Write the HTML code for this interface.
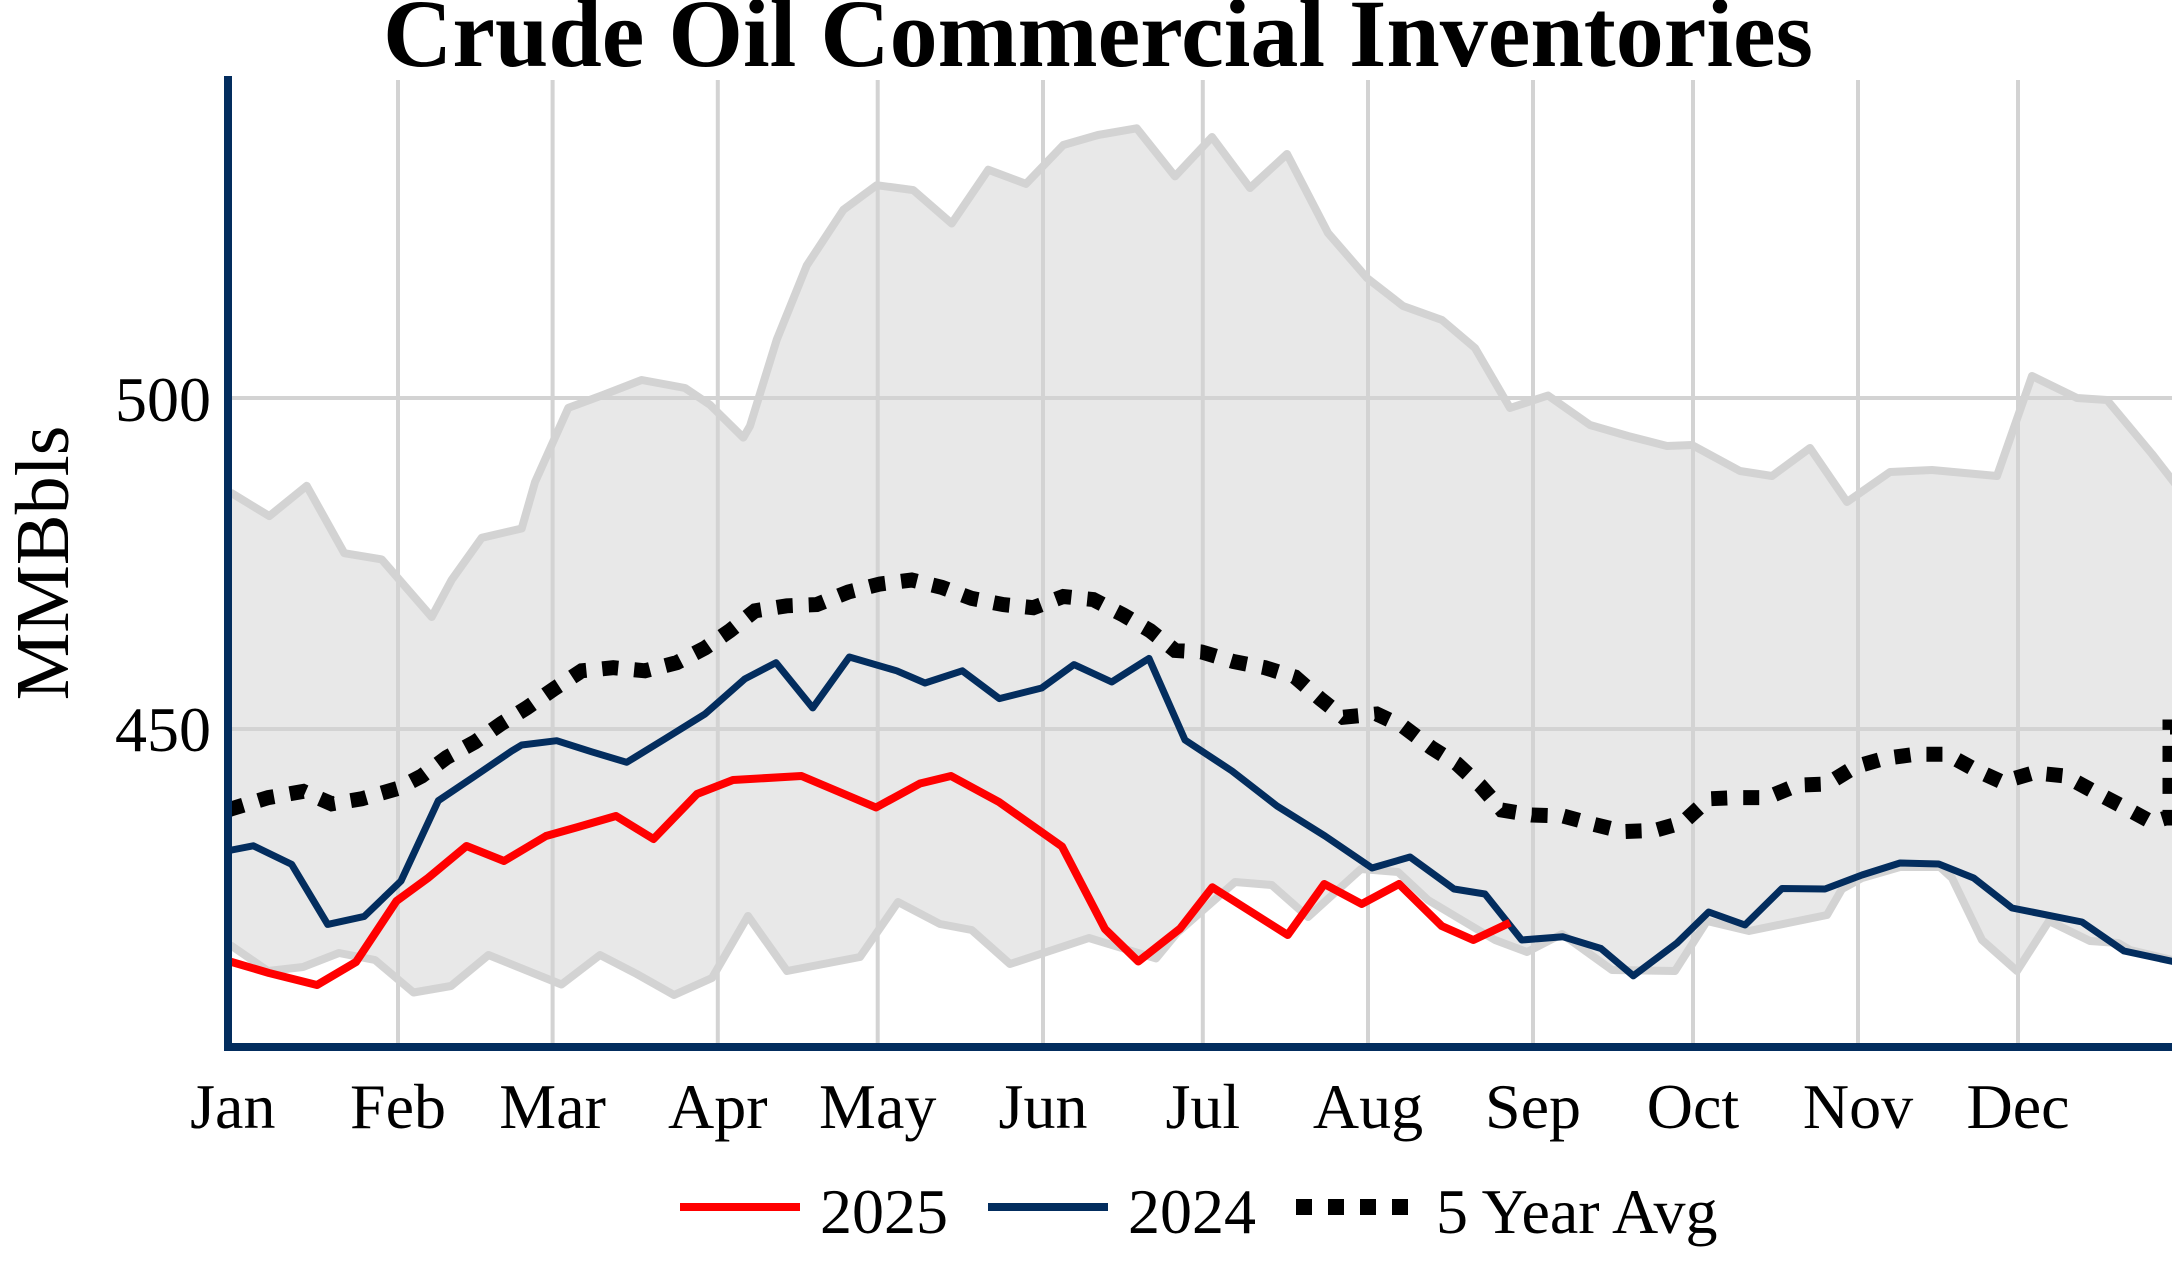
<!DOCTYPE html>
<html>
<head>
<meta charset="utf-8">
<style>
html,body{margin:0;padding:0;background:#fff;}
svg{display:block;}
text{font-family:"Liberation Serif","Times New Roman",serif;fill:#000;}
</style>
</head>
<body>
<svg width="2172" height="1276" viewBox="0 0 2172 1276" xmlns="http://www.w3.org/2000/svg">
<defs>
<clipPath id="pa"><rect x="228" y="80" width="1944" height="967"/></clipPath>
</defs>
<rect width="2172" height="1276" fill="#fff"/>

<g clip-path="url(#pa)">
<!-- band fill -->
<polygon fill="#e8e8e8" points="
228,493 231.7,493.2 269.3,516.1 306.7,485.8 344.3,553.2 381.7,559.4 431.7,617 451.7,579.8 481.7,537.8 521.7,528.5 535,482.1 568.3,407.9 601.7,395.5 641.7,380 685,388 710,404.8 743.3,437.6 750,426 776.7,339.8 806.7,265.6 843.3,209.9 876.7,185.2 913.3,190.1 951.7,223.5 988.3,169.7 1026,183.9 1063.3,145 1098,135 1136.7,128.3 1175,176.4 1212,137 1250,188 1287,154 1328,233 1367,278 1403,306 1442,320 1475,348 1510,408 1548,395.5 1590,425 1628,436 1667,446 1692,445 1740,471 1772,476 1810,448 1847,502 1890,472 1932,470 1997,476 2032,376 2077,398 2107,400 2152,454 2180,490
2180,960 2172,960 2130,950 2118,943 2090,941 2049,921 2017,971 1982,940 1952,878 1940,867 1900,867 1862,878 1842,889 1827,915 1749,931 1707,921 1675,971 1612,970 1562,934 1527,952 1495,940 1428,900 1398,872 1361,869 1308,917 1271.7,885 1235,882 1177,933 1156,958.4 1089,938 1010,964 971.7,930 940,924 898,902 860,957 787,971 748,916 712,978 674,995 636.7,974 600,955 561.5,984.5 488.5,955 451,986 413.5,992.5 375,960 339,953 303,967 268,971 231.7,946 228,945"/>

<!-- gridlines -->
<g stroke="#d3d3d3" stroke-width="4" fill="none">
<line x1="228" y1="398" x2="2172" y2="398"/>
<line x1="228" y1="729" x2="2172" y2="729"/>
<line x1="398" y1="80" x2="398" y2="1047"/>
<line x1="552.6" y1="80" x2="552.6" y2="1047"/>
<line x1="717.8" y1="80" x2="717.8" y2="1047"/>
<line x1="877.7" y1="80" x2="877.7" y2="1047"/>
<line x1="1043" y1="80" x2="1043" y2="1047"/>
<line x1="1202.8" y1="80" x2="1202.8" y2="1047"/>
<line x1="1368" y1="80" x2="1368" y2="1047"/>
<line x1="1533" y1="80" x2="1533" y2="1047"/>
<line x1="1693" y1="80" x2="1693" y2="1047"/>
<line x1="1858" y1="80" x2="1858" y2="1047"/>
<line x1="2018" y1="80" x2="2018" y2="1047"/>
</g>

<!-- band lines -->
<g stroke="#d3d3d3" stroke-width="8" fill="none" stroke-linejoin="round">
<polyline points="228,493 231.7,493.2 269.3,516.1 306.7,485.8 344.3,553.2 381.7,559.4 431.7,617 451.7,579.8 481.7,537.8 521.7,528.5 535,482.1 568.3,407.9 601.7,395.5 641.7,380 685,388 710,404.8 743.3,437.6 750,426 776.7,339.8 806.7,265.6 843.3,209.9 876.7,185.2 913.3,190.1 951.7,223.5 988.3,169.7 1026,183.9 1063.3,145 1098,135 1136.7,128.3 1175,176.4 1212,137 1250,188 1287,154 1328,233 1367,278 1403,306 1442,320 1475,348 1510,408 1548,395.5 1590,425 1628,436 1667,446 1692,445 1740,471 1772,476 1810,448 1847,502 1890,472 1932,470 1997,476 2032,376 2077,398 2107,400 2152,454 2180,490"/>
<polyline points="228,945 231.7,946 268,971 303,967 339,953 375,960 413.5,992.5 451,986 488.5,955 561.5,984.5 600,955 636.7,974 674,995 712,978 748,916 787,971 860,957 898,902 940,924 971.7,930 1010,964 1089,938 1156,958.4 1177,933 1235,882 1271.7,885 1308,917 1361,869 1398,872 1428,900 1495,940 1527,952 1562,934 1612,970 1675,971 1707,921 1749,931 1827,915 1842,889 1862,878 1900,867 1940,867 1952,878 1982,940 2017,971 2049,921 2090,941 2118,943 2130,950 2172,960 2180,960"/>
</g>

<!-- 2024 -->
<polyline fill="none" stroke="#032d5e" stroke-width="7" stroke-linejoin="round" points="228,851 231.7,850 253.3,845.8 291.7,864.4 327.7,924.4 364.3,916.4 401,881 438.3,800.7 475,776 511.7,751 521.7,745 556.7,740.7 591.7,751.8 626.7,762.3 665,738.8 705,714 745,678.8 776,662.7 812.7,707.9 849.3,657 896.7,670.8 925,683 962.3,670.8 999.3,698.6 1041.7,688 1074,664.6 1111.7,682 1149,658.4 1185,740 1232,771 1277,806 1325,836 1372,868 1410,857 1454,889 1485,894 1521.7,940 1563,936.8 1601,948.5 1633.3,975.8 1677,943 1708.7,912 1745,925 1782,888.5 1825,889 1862,875 1900,863 1938.7,864 1973.7,878 2012,908 2082,922 2124,951 2180,963"/>

<!-- 2025 -->
<polyline fill="none" stroke="#ff0000" stroke-width="8" stroke-linejoin="round" points="228,962 231.7,962 269,973 317,985 356,962 396.5,901 428,878 466.5,846 504,861 546,836 578,827 616,816 653.5,839 697,794 733,780 801.5,776 876,807.5 920,783.5 951,776 999,802 1062,846.5 1105,929 1138.3,961.5 1180,928.7 1212.3,887.3 1287.7,935 1324.3,884 1361.7,904 1399,884 1441.7,926 1473.3,940 1510,922.6"/>

<!-- 5 year avg -->
<polyline fill="none" stroke="#000" stroke-width="15" stroke-dasharray="16 16" points="228,810 231.7,808.7 268.3,797.6 303.3,791.4 331.7,803.8 361.7,798.8 398.3,788.3 421.7,776 446.7,757.4 475,742 501.7,723.4 526.7,707.9 553.3,689.3 581.7,670.8 613.3,667.7 645,670.8 676.7,662.7 705,648 730,630.6 755,610.8 786.7,605.8 816.7,604.6 848.3,592 880,584 911.7,580 941.7,587.3 971.7,598.4 1003.3,604.6 1033.3,607.7 1063.3,596.5 1093.3,599.6 1123.3,615 1150,630.6 1175,650.4 1201.7,652 1233.3,661.5 1265,667.7 1295,677 1320,698.6 1343.3,717.2 1376.7,714 1403.3,726.5 1431.7,748 1456.7,763.6 1480,785.2 1501.7,810 1531.7,815 1563.3,816 1593.3,824.2 1623.3,831.6 1655,830.4 1683.3,822.3 1708.7,798.8 1737,797.6 1767,797.6 1797,785.2 1827,784 1855.3,766.7 1883.7,758.6 1915.3,754.3 1947,754.3 1975.3,769.8 2002,782 2033.7,772.8 2065.3,776 2093.7,791.4 2123.7,807 2152,822.3 2166,818 2170,818 2170,727 2185,727"/>
</g>

<!-- axes lines -->
<line x1="228" y1="76" x2="228" y2="1051" stroke="#032d5e" stroke-width="8"/>
<line x1="224" y1="1047" x2="2172" y2="1047" stroke="#032d5e" stroke-width="8"/>

<!-- title -->
<text x="1098" y="66" text-anchor="middle" font-size="96" font-weight="bold">Crude Oil Commercial Inventories</text>

<!-- y ticks -->
<text x="211" y="421" text-anchor="end" font-size="64">500</text>
<text x="211" y="751" text-anchor="end" font-size="64">450</text>

<!-- y title -->
<text x="68" y="563" text-anchor="middle" font-size="76" transform="rotate(-90 68 563)">MMBbls</text>

<!-- x ticks -->
<g font-size="64" text-anchor="middle">
<text x="232.8" y="1128">Jan</text>
<text x="398" y="1128">Feb</text>
<text x="552.6" y="1128">Mar</text>
<text x="717.8" y="1128">Apr</text>
<text x="877.7" y="1128">May</text>
<text x="1043" y="1128">Jun</text>
<text x="1202.8" y="1128">Jul</text>
<text x="1368" y="1128">Aug</text>
<text x="1533" y="1128">Sep</text>
<text x="1693" y="1128">Oct</text>
<text x="1858" y="1128">Nov</text>
<text x="2018" y="1128">Dec</text>
</g>

<!-- legend -->
<line x1="680" y1="1207" x2="800" y2="1207" stroke="#ff0000" stroke-width="8"/>
<text x="820" y="1233" font-size="64">2025</text>
<line x1="988" y1="1207" x2="1108" y2="1207" stroke="#032d5e" stroke-width="8"/>
<text x="1128" y="1233" font-size="64">2024</text>
<line x1="1296" y1="1207" x2="1416" y2="1207" stroke="#000" stroke-width="16" stroke-dasharray="16 16"/>
<text x="1436" y="1233" font-size="64">5 Year Avg</text>
</svg>
</body>
</html>
